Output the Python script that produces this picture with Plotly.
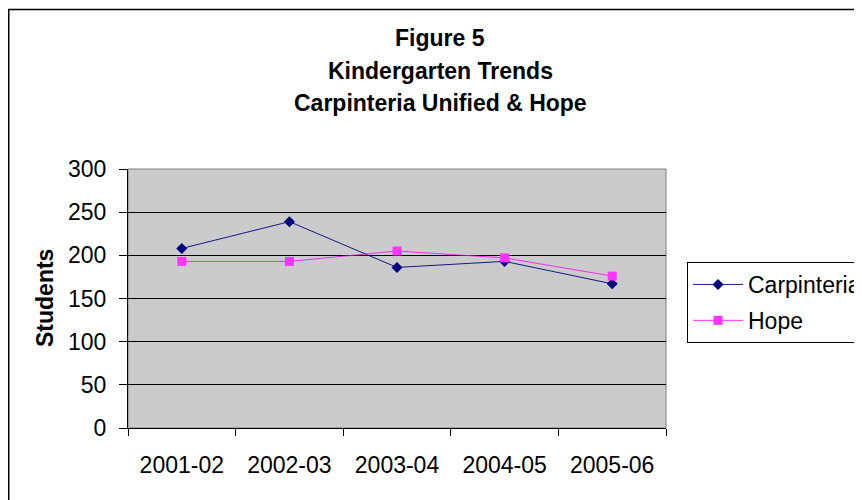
import plotly.graph_objects as go

years = ["2001-02", "2002-03", "2003-04", "2004-05", "2005-06"]
carpinteria = [208, 239, 186, 193, 167]
hope = [193, 193, 205, 197, 176]
y_ticks = [0, 50, 100, 150, 200, 250, 300]
title_lines = ["Figure 5", "Kindergarten Trends", "Carpinteria Unified & Hope"]

# target pixel positions (screen coordinates); the page body adds an 8px offset
OFF = 8
W, H = 862, 500
L, R, T, B = 128, 666, 169, 428
pw, ph = R - L, B - T


def px_x(x):
    return (x - L) / pw


def px_y(y):
    return (B - y) / ph


fig = go.Figure()
fig.add_trace(go.Scatter(
    x=years, y=carpinteria, name="Carpinteria", mode="lines+markers",
    legendgroup="a",
    line=dict(color="#000080", width=0.9),
    marker=dict(symbol="diamond", size=8.5, color="#000080"),
))
fig.add_trace(go.Scatter(
    x=years, y=hope, name="Hope", mode="lines+markers",
    legendgroup="b",
    line=dict(color="#FF00FF", width=0.8),
    marker=dict(symbol="square", size=9, color="#FF33FF"),
))

font = "Liberation Sans, Arial, sans-serif"
FS = 23
annotations = []
for txt, yc in zip(title_lines, [38, 70.5, 103]):
    annotations.append(dict(
        text="<b>%s</b>" % txt, xref="paper", yref="paper",
        x=px_x(440), y=px_y(yc), xanchor="center", yanchor="middle",
        showarrow=False, font=dict(family=font, size=FS, color="black"),
    ))
annotations.append(dict(
    text="<b>Students</b>", xref="paper", yref="paper",
    x=px_x(45), y=px_y(298), xanchor="center", yanchor="middle",
    textangle=-90, showarrow=False, font=dict(family=font, size=FS, color="black"),
))

shapes = [
    dict(type="rect", xref="paper", yref="paper", x0=0, x1=1, y0=0, y1=1,
         line=dict(color="#808080", width=1), layer="below"),
    dict(type="rect", xref="paper", yref="paper",
         x0=px_x(OFF + 0.75), x1=px_x(900), y0=px_y(530), y1=px_y(OFF + 1.5),
         line=dict(color="black", width=1.5)),
]

fig.update_layout(
    width=W, height=H,
    margin=dict(l=L - OFF, r=W - (R - OFF), t=T - OFF, b=H - (B - OFF), autoexpand=False),
    paper_bgcolor="white", plot_bgcolor="#CBCBCB",
    font=dict(family=font, size=FS, color="black"),
    showlegend=True,
    legend=dict(
        x=px_x(687), y=px_y(262), xanchor="left", yanchor="top",
        bordercolor="black", borderwidth=1, bgcolor="white",
        font=dict(family=font, size=FS, color="black"),
        traceorder="grouped", tracegroupgap=3, itemwidth=50,
    ),
    annotations=annotations,
    shapes=shapes,
)
fig.update_xaxes(
    type="category", range=[-0.5, 4.5], showgrid=False,
    showline=True, linecolor="black", linewidth=1,
    ticks="outside", tickson="boundaries", ticklen=7, tickcolor="black",
    ticklabelstandoff=16, tickfont=dict(size=FS),
)
fig.update_yaxes(
    range=[0, 300], tickvals=y_ticks, showgrid=True, gridcolor="black", gridwidth=1,
    showline=True, linecolor="black", linewidth=1,
    ticks="outside", ticklen=8, tickcolor="black", tickfont=dict(size=FS),
    ticklabelstandoff=8, zeroline=False,
)

fig.write_html("out.html")
